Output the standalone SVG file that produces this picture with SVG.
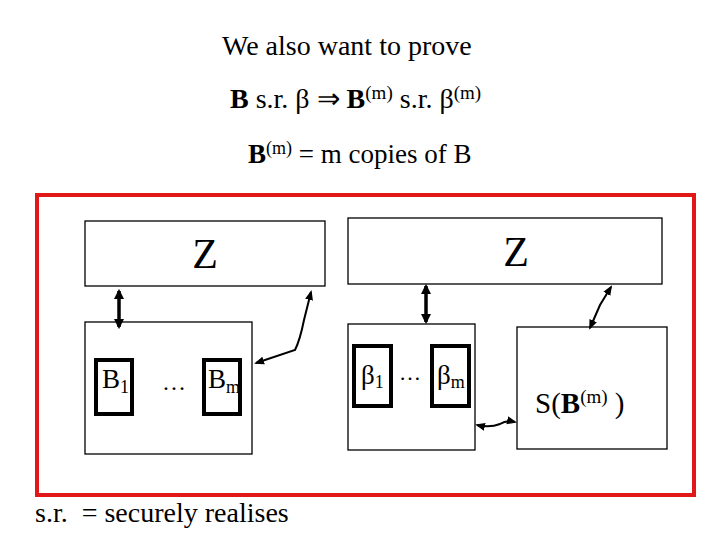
<svg xmlns="http://www.w3.org/2000/svg" width="720" height="540" viewBox="0 0 720 540">
<defs>
<marker id="ah" viewBox="0 0 10 10" refX="8" refY="5" markerWidth="3" markerHeight="3" orient="auto-start-reverse"><path d="M0,0 L10,5 L0,10 z" fill="#000"/></marker>
<marker id="ah2" viewBox="0 0 10 10" refX="8" refY="5" markerWidth="5" markerHeight="5" orient="auto-start-reverse"><path d="M0,1 L10,5 L0,9 z" fill="#000"/></marker>
</defs>
<rect width="720" height="540" fill="#fff"/>
<g id="title">
<text x="222" y="55" font-size="28" font-family="'Liberation Serif', serif">We also want to prove</text>
<text x="230" y="108" font-size="28" font-family="'Liberation Serif', serif"><tspan font-weight="bold">B</tspan> s.r. β ⇒ <tspan font-weight="bold">B</tspan><tspan font-size="19" dy="-9">(m)</tspan><tspan dy="9"> s.r. β</tspan><tspan font-size="19" dy="-9">(m)</tspan></text>
<text x="248" y="163" font-size="27" font-family="'Liberation Serif', serif"><tspan font-weight="bold">B</tspan><tspan font-size="18" dy="-9">(m)</tspan><tspan dy="9"> = m copies of B</tspan></text>
</g>
<rect id="frame" x="37" y="195" width="657" height="300" fill="none" stroke="#e01818" stroke-width="4"/>
<g id="z-left">
<rect x="85" y="221" width="240" height="65" fill="#fff" stroke="#000" stroke-width="1.3"/>
<text x="205" y="268" font-size="42" text-anchor="middle" font-family="'Liberation Serif', serif">Z</text>
</g>
<g id="z-right">
<rect x="348" y="218" width="314" height="66" fill="#fff" stroke="#000" stroke-width="1.3"/>
<text x="516" y="266" font-size="42" text-anchor="middle" font-family="'Liberation Serif', serif">Z</text>
</g>
<g id="real-world">
<rect x="85" y="322" width="167" height="132" fill="#fff" stroke="#000" stroke-width="1.3"/>
<g id="b1"><rect x="96" y="360" width="36" height="54" fill="#fff" stroke="#000" stroke-width="4"/><text x="102" y="388" font-size="27" font-family="'Liberation Serif', serif">B<tspan font-size="18" dy="5">1</tspan></text></g>
<text x="162" y="390" font-size="24" font-family="'Liberation Serif', serif">…</text>
<g id="bm"><rect x="204" y="360" width="36" height="54" fill="#fff" stroke="#000" stroke-width="4"/><text x="208" y="388" font-size="27" font-family="'Liberation Serif', serif">B<tspan font-size="18" dy="5">m</tspan></text></g>
</g>
<g id="ideal-world">
<rect x="348" y="324" width="127" height="126" fill="#fff" stroke="#000" stroke-width="1.3"/>
<g id="beta1"><rect x="354" y="346" width="37" height="60" fill="#fff" stroke="#000" stroke-width="4"/><text x="361" y="384" font-size="27" font-family="'Liberation Serif', serif">β<tspan font-size="18" dy="4">1</tspan></text></g>
<text x="399" y="380" font-size="22" font-family="'Liberation Serif', serif">…</text>
<g id="betam"><rect x="432" y="346" width="37" height="60" fill="#fff" stroke="#000" stroke-width="4"/><text x="437" y="384" font-size="27" font-family="'Liberation Serif', serif">β<tspan font-size="18" dy="4">m</tspan></text></g>
</g>
<g id="simulator">
<rect x="517" y="327" width="150" height="122" fill="#fff" stroke="#000" stroke-width="1.3"/>
<text x="535" y="413" font-size="29" font-family="'Liberation Serif', serif">S(<tspan font-weight="bold">B</tspan><tspan font-size="19" dy="-10">(m)</tspan><tspan dy="10"> )</tspan></text>
</g>
<g id="connectors" fill="none" stroke="#000">
<line x1="119" y1="291" x2="119" y2="327" stroke-width="3.5" marker-start="url(#ah)" marker-end="url(#ah)"/>
<line x1="426" y1="286" x2="426" y2="322" stroke-width="3.5" marker-start="url(#ah)" marker-end="url(#ah)"/>
<path stroke-width="2" d="M256,363 L295,350 Q300,340 304,320 L311,292" marker-start="url(#ah2)" marker-end="url(#ah2)"/>
<path stroke-width="2" d="M590,328 L600,305 L611,287" marker-start="url(#ah2)" marker-end="url(#ah2)"/>
<path stroke-width="2" d="M477,425 Q490,428 500,424 Q506,420 515,422" marker-start="url(#ah2)" marker-end="url(#ah2)"/>
</g>
<text x="35" y="522" font-size="28" font-family="'Liberation Serif', serif" xml:space="preserve">s.r.  = securely realises</text>
</svg>
